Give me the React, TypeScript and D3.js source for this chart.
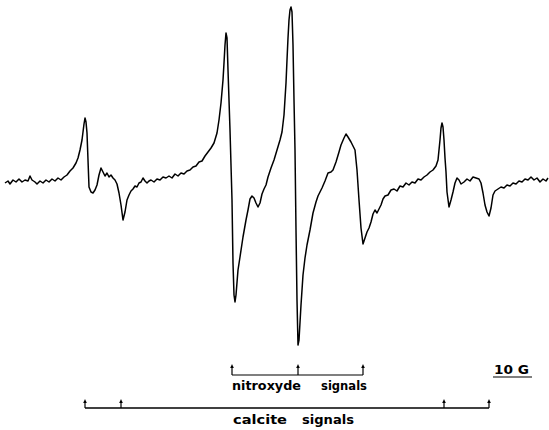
import React from "react";
import * as d3 from "d3";

const field = [5,8,10,13,16,19,22,25,28,30,32,35,37,40,43,46,49,52,55,58,61,64,67,70,73,76,78,80,82,84,85,86,87,88,89,91,93,95,97,99,101,103,105,107,109,111,113,115,117,119,121,123,125,127,129,131,133,135,137,139,141,143,145,147,149,151,154,157,160,163,166,169,172,175,178,181,184,187,190,193,196,199,202,205,208,211,214,217,219,221,223,224,225,226,227,228,230,232,233,234,235,236,238,240,243,246,248,250,252,254,256,258,260,262,264,266,268,271,274,277,280,282,284,286,287,288,289,290,291,292,293,294,295,296,297,298,299,301,303,305,307,310,313,316,318,320,322,325,328,331,333,336,339,341,344,346,348,351,353,355,357,359,361,363,365,367,369,371,373,375,377,379,381,383,385,388,391,394,397,400,403,406,409,412,415,418,421,424,427,430,433,436,438,439,440,441,442,443,444,445,446,447,449,451,453,455,457,459,461,464,467,470,473,476,479,481,483,485,487,489,491,493,495,498,501,504,507,510,513,516,519,522,525,528,531,534,537,540,543,546,548];
const signal = [-3,-1,-4,0,-2,1,-2,0,-1,4,0,-2,-4,-1,-3,0,-2,1,-1,2,0,3,5,9,12,17,22,30,40,56,62,58,47,20,-7,-12,-13,-10,-5,5,12,8,4,7,3,5,2,0,-4,-13,-25,-40,-32,-20,-15,-11,-9,-6,-7,-3,-2,2,-1,-3,-1,0,-2,1,0,3,2,4,2,6,4,7,6,9,10,13,14,18,19,24,28,32,37,47,60,77,100,117,135,147,142,110,50,-20,-83,-115,-122,-115,-90,-77,-57,-40,-30,-19,-16,-18,-23,-27,-23,-14,-9,-5,3,12,20,30,40,48,65,97,120,142,160,170,173,168,135,80,30,-50,-120,-165,-160,-125,-95,-78,-65,-50,-33,-22,-16,-12,-8,-1,7,8,10,18,28,35,42,46,43,38,34,30,10,-20,-48,-64,-58,-52,-48,-42,-34,-30,-33,-29,-25,-19,-16,-15,-10,-9,-11,-6,-7,-3,-5,-2,-3,1,0,3,5,8,10,14,20,30,40,52,57,53,40,22,8,-12,-27,-20,-12,-3,2,0,-4,-2,1,-1,3,2,1,-3,-13,-25,-32,-36,-28,-15,-11,-9,-7,-8,-5,-6,-3,-4,-1,-2,1,0,3,0,2,-2,1,-1,2];

// Line positions (same field units)
const nitroxydeLines = [232, 298, 363];
const calciteLines = [85, 121, 444, 489];
const nitroxydeLabel = ["nitroxyde", "signals"];
const calciteLabel = ["calcite", "signals"];
const scaleLabel = "10 G";

export default function App() {
  const W = 549, H = 430;
  const x = d3.scaleLinear().domain([0, 549]).range([0, 549]);
  const y = d3.scaleLinear().domain([-170, 180]).range([350, 0]);
  const pts: [number, number][] = field.map((f, i) => [f, signal[i]]);
  const line = d3.line<[number, number]>().x(d => x(d[0])).y(d => y(d[1]));

  const font = "'DejaVu Sans', 'Liberation Sans', Arial, sans-serif";

  const arrow = (px: number, top: number, bottom: number, key: string) => (
    <g key={key}>
      <line x1={px} x2={px} y1={bottom} y2={top + 2} stroke="#000" strokeWidth={1.2} />
      <path d={`M${px - 1.8},${top + 4} L${px},${top} L${px + 1.8},${top + 4} Z`} fill="#000" />
    </g>
  );

  const nTop = 364, nY = 375;
  const cTop = 399, cY = 408;
  const txt = { fontFamily: font, fontWeight: "bold" as const, fontSize: 12.5, lengthAdjust: "spacingAndGlyphs" };

  return (
    <svg width={W} height={H} style={{ position: "absolute", left: 0, top: 0, background: "#fff" }}>
      <rect width={W} height={H} fill="#fff" />
      <path d={line(pts) ?? ""} fill="none" stroke="#000" strokeWidth={1.5} strokeLinejoin="round" />

      {/* nitroxyde bracket */}
      <line x1={x(nitroxydeLines[0])} x2={x(nitroxydeLines[nitroxydeLines.length - 1])} y1={nY} y2={nY} stroke="#000" strokeWidth={1.2} />
      {nitroxydeLines.map((f, i) => arrow(x(f), nTop, nY, "n" + i))}
      <text x={232} y={390} {...txt} textLength={69}>{nitroxydeLabel[0]}</text>
      <text x={321} y={390} {...txt} textLength={46}>{nitroxydeLabel[1]}</text>

      {/* calcite bracket */}
      <line x1={x(calciteLines[0])} x2={x(calciteLines[calciteLines.length - 1])} y1={cY} y2={cY} stroke="#000" strokeWidth={1.3} />
      {calciteLines.map((f, i) => arrow(x(f), cTop, cY, "c" + i))}
      <text x={233} y={424} {...txt} textLength={54}>{calciteLabel[0]}</text>
      <text x={302} y={424} {...txt} textLength={52}>{calciteLabel[1]}</text>

      {/* scale */}
      <text x={494} y={374} fontFamily={font} fontWeight="bold" fontSize={11.5} textLength={35} lengthAdjust="spacingAndGlyphs">{scaleLabel}</text>
      <line x1={493} x2={532} y1={377} y2={377} stroke="#000" strokeWidth={1.2} />
    </svg>
  );
}
